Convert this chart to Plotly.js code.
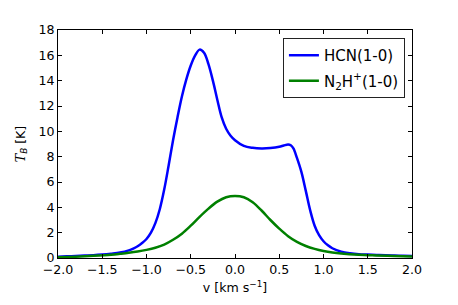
<!DOCTYPE html>
<html>
<head>
<meta charset="utf-8">
<script src="https://cdn.plot.ly/plotly-3.0.1.min.js"></script>
<style>html,body{margin:0;padding:0;background:#fff;}#chart{width:458px;height:305px;}</style>
</head>
<body>
<div id="chart"></div>
<script>
var hcnV = [-2.0,-1.9,-1.8,-1.7,-1.6,-1.5,-1.4,-1.3,-1.2,-1.15,-1.1,-1.05,-1.0,-0.95,-0.9,-0.85,-0.8,-0.75,-0.7,-0.65,-0.6,-0.55,-0.5,-0.45,-0.4,-0.35,-0.3,-0.25,-0.2,-0.15,-0.1,-0.05,0.0,0.1,0.2,0.3,0.4,0.5,0.55,0.6,0.63,0.66,0.7,0.75,0.8,0.85,0.9,0.95,1.0,1.05,1.1,1.2,1.3,1.4,1.5,1.6,1.7,1.8,1.9,2.0];
var hcnT = [0.10,0.13,0.16,0.19,0.22,0.27,0.34,0.43,0.60,0.74,0.93,1.18,1.5,2.0,2.75,3.85,5.4,7.3,9.3,11.1,12.75,14.1,15.2,16.0,16.45,16.2,15.3,14.0,12.5,11.1,10.2,9.65,9.3,8.85,8.7,8.65,8.68,8.78,8.88,8.97,8.9,8.65,7.9,6.8,5.3,3.75,2.55,1.8,1.32,1.0,0.77,0.50,0.37,0.30,0.27,0.24,0.21,0.19,0.17,0.15];
var n2hV = [-2.0,-1.8,-1.6,-1.4,-1.3,-1.2,-1.1,-1.0,-0.9,-0.8,-0.7,-0.6,-0.5,-0.4,-0.3,-0.2,-0.1,0.0,0.1,0.2,0.3,0.4,0.5,0.6,0.7,0.8,0.9,1.0,1.1,1.2,1.4,1.6,1.8,2.0];
var n2hT = [0.05,0.10,0.17,0.26,0.33,0.41,0.51,0.64,0.81,1.06,1.44,1.92,2.55,3.25,3.9,4.45,4.8,4.9,4.8,4.4,3.75,3.0,2.32,1.72,1.27,0.95,0.72,0.55,0.43,0.35,0.25,0.20,0.16,0.12];
var names = ["HCN(1-0)", "N<sub>2</sub>H<sup>+</sup>(1-0)"];
var xTicks = [-2.0,-1.5,-1.0,-0.5,0.0,0.5,1.0,1.5,2.0];
var yTicks = [0,2,4,6,8,10,12,14,16,18];

var traces = [
  {x: hcnV, y: hcnT, name: names[0], legendgroup: 'a', mode: 'lines', line: {color: '#0000ff', width: 2.5, shape: 'spline', smoothing: 1}},
  {x: n2hV, y: n2hT, name: names[1], legendgroup: 'b', mode: 'lines', line: {color: '#008000', width: 2.5, shape: 'spline', smoothing: 1}}
];
var font = {family: 'DejaVu Sans', size: 12.6, color: '#000'};
var layout = {
  width: 458, height: 305,
  margin: {l: 58, r: 46, t: 30, b: 47},
  paper_bgcolor: '#fff', plot_bgcolor: '#fff',
  font: font,
  showlegend: true,
  legend: {x: 0.98, y: 0.965, xanchor: 'right', yanchor: 'top', bordercolor: '#222', borderwidth: 1, bgcolor: '#fff', font: {family: 'DejaVu Sans', size: 15, color: '#000'}, tracegroupgap: 3},
  xaxis: {range: [-2, 2], tickvals: xTicks, ticktext: xTicks.map(function(v){return (v<0?'\u2212':'')+Math.abs(v).toFixed(1);}), ticks: 'inside', ticklen: 4, tickcolor: '#000', showline: true, linecolor: '#000', linewidth: 1, mirror: 'ticks', showgrid: false, zeroline: false,
    title: {text: 'v [km s<sup>\u22121</sup>]', font: font, standoff: 7}},
  yaxis: {range: [0, 18], tickvals: yTicks, ticks: 'inside', ticklen: 4, tickcolor: '#000', showline: true, linecolor: '#000', linewidth: 1, mirror: 'ticks', showgrid: false, zeroline: false,
    title: {text: '<i style="font-family:DejaVu Serif">T</i><sub><i>B</i></sub> [K]', font: font, standoff: 10}}
};
Plotly.newPlot('chart', traces, layout, {displayModeBar: false, staticPlot: true});
</script>
</body>
</html>
